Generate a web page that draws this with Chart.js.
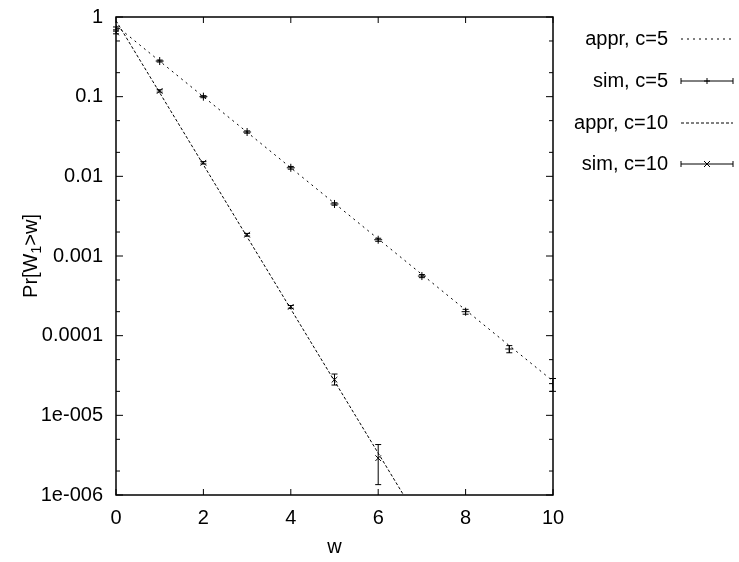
<!DOCTYPE html>
<html>
<head>
<meta charset="utf-8">
<script src="https://cdn.jsdelivr.net/npm/chart.js@4/dist/chart.umd.min.js"></script>
<style>
  html, body { margin: 0; padding: 0; background: #fff; }
  #wrap { width: 739px; height: 562px; }
</style>
</head>
<body>
<div id="wrap"><canvas id="c" width="739" height="562"></canvas></div>
<script>
// data
const wSteps = [0, 1, 2, 3, 4, 5, 6, 7, 8, 9, 10];

const apprC5 = [0.78, 0.279, 0.0999, 0.0358, 0.0128, 0.00458, 0.00164, 0.000587, 0.00021, 0.000075, 0.0000269];
const simC5 = [0.72, 0.28, 0.10, 0.036, 0.0128, 0.0045, 0.0016, 0.00056, 0.0002, 0.000068, 0.000025];
const simC5Lo = [0.69, 0.272, 0.097, 0.0348, 0.0123, 0.00434, 0.00153, 0.000535, 0.000186, 0.000061, 0.00002];
const simC5Hi = [0.75, 0.288, 0.103, 0.0372, 0.0133, 0.00466, 0.00167, 0.000585, 0.000214, 0.000075, 0.000029];

const apprC10 = [0.9, 0.112, 0.01395, 0.001737, 0.000216, 0.0000269, 0.00000335, 0.000000417];
const simC10 = [0.64, 0.118, 0.0148, 0.00185, 0.00023, 0.000028, 0.0000029];
const simC10Lo = [0.615, 0.114, 0.0143, 0.00178, 0.000221, 0.000024, 0.00000135];
const simC10Hi = [0.665, 0.122, 0.0153, 0.00192, 0.000239, 0.000033, 0.0000043];

const xTickVals = [0, 2, 4, 6, 8, 10];
const yTickVals = [1, 0.1, 0.01, 0.001, 0.0001, 0.00001, 0.000001];
const yTickLabels = ["1", "0.1", "0.01", "0.001", "0.0001", "1e-005", "1e-006"];
const legendLabels = ["appr, c=5", "sim, c=5", "appr, c=10", "sim, c=10"];

const FONT = "Liberation Sans, Arial, sans-serif";
const FS = 20;

const pts = (ys) => ys.map((v, i) => ({ x: wSteps[i], y: v }));

function drawMarker(ctx, style, x, y, r) {
  ctx.beginPath();
  if (style === "cross") {
    ctx.moveTo(x - r, y); ctx.lineTo(x + r, y);
    ctx.moveTo(x, y - r); ctx.lineTo(x, y + r);
  } else {
    ctx.moveTo(x - r, y - r); ctx.lineTo(x + r, y + r);
    ctx.moveTo(x - r, y + r); ctx.lineTo(x + r, y - r);
  }
  ctx.stroke();
}

const gnuplotLook = {
  id: "gnuplotLook",
  afterDatasetsDraw(chart) {
    const ctx = chart.ctx, xs = chart.scales.x, ys = chart.scales.y;
    ctx.save();
    ctx.strokeStyle = "#000";
    ctx.lineWidth = 1;
    [[simC5Lo, simC5Hi], [simC10Lo, simC10Hi]].forEach(([lo, hi]) => {
      lo.forEach((_, i) => {
        const px = xs.getPixelForValue(wSteps[i]);
        const p1 = ys.getPixelForValue(lo[i]);
        const p2 = ys.getPixelForValue(hi[i]);
        ctx.beginPath();
        ctx.moveTo(px, p1); ctx.lineTo(px, p2);
        ctx.moveTo(px - 3, p1); ctx.lineTo(px + 3, p1);
        ctx.moveTo(px - 3, p2); ctx.lineTo(px + 3, p2);
        ctx.stroke();
      });
    });
    ctx.restore();
  },
  afterDraw(chart) {
    const ctx = chart.ctx, xs = chart.scales.x, ys = chart.scales.y, a = chart.chartArea;
    ctx.save();
    ctx.strokeStyle = "#000";
    // frame
    ctx.lineWidth = 1.5;
    ctx.strokeRect(a.left, a.top, a.right - a.left, a.bottom - a.top);
    // ticks, pointing inward on all four sides
    ctx.lineWidth = 1;
    ctx.beginPath();
    xTickVals.forEach(v => {
      const px = xs.getPixelForValue(v);
      ctx.moveTo(px, a.bottom); ctx.lineTo(px, a.bottom - 6);
      ctx.moveTo(px, a.top); ctx.lineTo(px, a.top + 6);
    });
    yTickVals.forEach(v => {
      const py = ys.getPixelForValue(v);
      ctx.moveTo(a.left, py); ctx.lineTo(a.left + 7, py);
      ctx.moveTo(a.right, py); ctx.lineTo(a.right - 7, py);
      if (v < 1) {
        [2, 5].forEach(m => {
          const pm = ys.getPixelForValue(v * m);
          ctx.moveTo(a.left, pm); ctx.lineTo(a.left + 4, pm);
          ctx.moveTo(a.right, pm); ctx.lineTo(a.right - 4, pm);
        });
      }
    });
    ctx.stroke();

    // axis titles
    ctx.fillStyle = "#000";
    ctx.font = FS + "px " + FONT;
    ctx.textAlign = "center";
    ctx.textBaseline = "middle";
    ctx.fillText("w", (a.left + a.right) / 2, 547);

    ctx.save();
    ctx.translate(30, (a.top + a.bottom) / 2);
    ctx.rotate(-Math.PI / 2);
    const p1 = "Pr[W", sub = "1", p2 = ">w]";
    ctx.font = FS + "px " + FONT;
    const w1 = ctx.measureText(p1).width, w3 = ctx.measureText(p2).width;
    ctx.font = (FS * 0.7) + "px " + FONT;
    const w2 = ctx.measureText(sub).width;
    let sx = -(w1 + w2 + w3) / 2;
    ctx.textAlign = "left";
    ctx.textBaseline = "alphabetic";
    ctx.font = FS + "px " + FONT;
    ctx.fillText(p1, sx, 7);
    ctx.font = (FS * 0.7) + "px " + FONT;
    ctx.fillText(sub, sx + w1, 11);
    ctx.font = FS + "px " + FONT;
    ctx.fillText(p2, sx + w1 + w2, 7);
    ctx.restore();

    // legend
    const rows = [39, 81, 123, 164];
    const styles = [
      { dash: [2, 4], marker: null },
      { dash: [], marker: "cross" },
      { dash: [3, 2], marker: null },
      { dash: [], marker: "crossRot" }
    ];
    ctx.font = FS + "px " + FONT;
    ctx.textAlign = "right";
    ctx.textBaseline = "middle";
    legendLabels.forEach((t, i) => {
      const ly = rows[i];
      ctx.fillText(t, 668, ly);
      ctx.setLineDash(styles[i].dash);
      ctx.beginPath();
      ctx.moveTo(681, ly); ctx.lineTo(733, ly);
      ctx.stroke();
      ctx.setLineDash([]);
      if (styles[i].marker) {
        ctx.beginPath();
        ctx.moveTo(681, ly - 3); ctx.lineTo(681, ly + 3);
        ctx.moveTo(733, ly - 3); ctx.lineTo(733, ly + 3);
        ctx.stroke();
        drawMarker(ctx, styles[i].marker, 707, ly, 3);
      }
    });
    ctx.restore();
  }
};

new Chart(document.getElementById("c"), {
  type: "scatter",
  data: {
    datasets: [
      {
        label: legendLabels[0],
        data: pts(apprC5),
        showLine: true,
        borderColor: "#000",
        borderWidth: 1,
        borderDash: [2, 4],
        pointRadius: 0
      },
      {
        label: legendLabels[1],
        data: pts(simC5),
        showLine: false,
        pointStyle: "cross",
        pointRadius: 4,
        borderColor: "#000",
        borderWidth: 1
      },
      {
        label: legendLabels[2],
        data: pts(apprC10),
        showLine: true,
        borderColor: "#000",
        borderWidth: 1,
        borderDash: [3, 2],
        pointRadius: 0
      },
      {
        label: legendLabels[3],
        data: pts(simC10),
        showLine: false,
        pointStyle: "crossRot",
        pointRadius: 4,
        borderColor: "#000",
        borderWidth: 1
      }
    ]
  },
  options: {
    responsive: false,
    animation: false,
    devicePixelRatio: 1,
    layout: { padding: { left: 0, top: 17, right: 186, bottom: 0 } },
    plugins: {
      legend: { display: false },
      tooltip: { enabled: false }
    },
    scales: {
      x: {
        type: "linear",
        min: 0,
        max: 10,
        grid: { display: false, drawTicks: false },
        border: { display: false },
        afterBuildTicks: s => { s.ticks = xTickVals.map(v => ({ value: v })); },
        afterFit: s => { s.height = 67; s.paddingLeft = 0; s.paddingRight = 0; },
        ticks: {
          color: "#000",
          padding: 11,
          maxRotation: 0,
          font: { family: FONT, size: FS }
        }
      },
      y: {
        type: "logarithmic",
        min: 0.000001,
        max: 1,
        grid: { display: false, drawTicks: false },
        border: { display: false },
        afterBuildTicks: s => { s.ticks = yTickVals.map(v => ({ value: v })); },
        afterFit: s => { s.width = 116; s.paddingTop = 0; s.paddingBottom = 0; },
        ticks: {
          color: "#000",
          padding: 13,
          font: { family: FONT, size: FS },
          callback: (v, i) => yTickLabels[i]
        }
      }
    }
  },
  plugins: [gnuplotLook]
});
</script>
</body>
</html>
